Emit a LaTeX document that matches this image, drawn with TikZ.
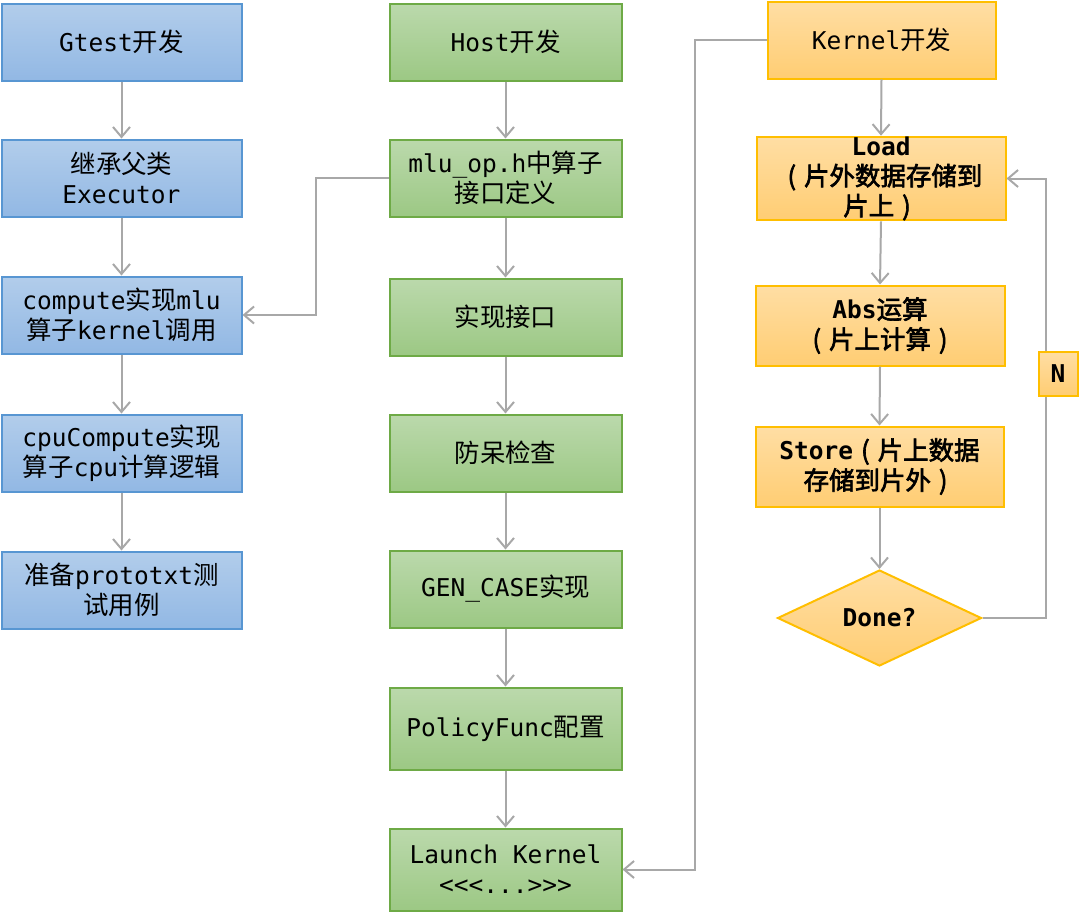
\documentclass[tikz,border=0pt]{standalone}
\usepackage{fontspec}
\setmonofont{DejaVu Sans Mono}
\newfontfamily\cjk[AutoFakeBold=2.5,Scale=1.04]{Noto Sans CJK SC}
\newcommand\zh[1]{{\cjk #1}}
\newcommand\lp{\makebox[1em][c]{\cjk (}}
\newcommand\rp{\makebox[1em][c]{\cjk )}}
\usetikzlibrary{arrows.meta,shapes.geometric}
\definecolor{bluetop}{RGB}{178,205,235}
\definecolor{bluebot}{RGB}{146,184,228}
\definecolor{blueline}{RGB}{88,150,210}
\definecolor{greentop}{RGB}{187,217,172}
\definecolor{greenbot}{RGB}{156,200,132}
\definecolor{greenline}{RGB}{110,170,70}
\definecolor{orgtop}{RGB}{255,222,164}
\definecolor{orgbot}{RGB}{255,205,115}
\definecolor{orgline}{RGB}{255,190,0}
\definecolor{conn}{RGB}{168,168,168}
\tikzset{
  box/.style={rectangle, line width=2pt, inner sep=0pt, align=center,
    font=\ttfamily\fontsize{24.5}{30}\selectfont},
  bfont/.style={font=\ttfamily\bfseries\fontsize{24.5}{30}\selectfont},
  bluebox/.style={box, draw=blueline, top color=bluetop, bottom color=bluebot,
    minimum width=240pt, minimum height=77pt},
  greenbox/.style={box, draw=greenline, top color=greentop, bottom color=greenbot,
    minimum width=232pt, minimum height=77pt},
  orgbox/.style={box, draw=orgline, top color=orgtop, bottom color=orgbot},
  arr/.style={draw=conn, line width=2pt, -{Straight Barb[length=10pt,width=17pt,line width=2pt]}},
  ln/.style={draw=conn, line width=2pt}
}
\begin{document}
\begin{tikzpicture}[x=1pt,y=-1pt]
\useasboundingbox (0,0) rectangle (1079,913);
% blue column
\node[bluebox] (g1) at (121.5,42) {Gtest\zh{开发}};
\node[bluebox] (g2) at (121.5,178) {\zh{继承父类}\\Executor};
\node[bluebox] (g3) at (121.5,315) {compute\zh{实现}mlu\\\zh{算子}kernel\zh{调用}};
\node[bluebox] (g4) at (121.5,453) {cpuCompute\zh{实现}\\\zh{算子}cpu\zh{计算逻辑}};
\node[bluebox] (g5) at (121.5,590) {\zh{准备}prototxt\zh{测}\\\zh{试用例}};
% green column
\node[greenbox] (h1) at (505.5,42) {Host\zh{开发}};
\node[greenbox] (h2) at (505.5,178) {mlu\_op.h\zh{中算子}\\\zh{接口定义}};
\node[greenbox] (h3) at (505.5,317) {\zh{实现接口}};
\node[greenbox] (h4) at (505.5,453) {\zh{防呆检查}};
\node[greenbox] (h5) at (505.5,589) {GEN\_CASE\zh{实现}};
\node[greenbox, minimum height=82pt] (h6) at (505.5,728.5) {PolicyFunc\zh{配置}};
\node[greenbox, minimum height=82pt] (h7) at (505.5,869.5) {Launch Kernel\\<{}<{}<...>{}>{}>};
% orange column
\node[orgbox, minimum width=228pt, minimum height=77pt] (k1) at (881.5,40) {Kernel\zh{开发}};
\node[orgbox, bfont, minimum width=249pt, minimum height=80pt] (k2) at (881,178.5) {Load\\\lp\zh{片外数据存储到}\\\zh{片上}\rp};
\node[orgbox, bfont, minimum width=249pt, minimum height=80pt] (k3) at (880,325.5) {Abs\zh{运算}\\\lp\zh{片上计算}\rp};
\node[orgbox, bfont, minimum width=248pt, minimum height=80pt] (k4) at (879.5,466.5) {Store\lp\zh{片上数据}\\\zh{存储到片外}\rp};
\node[diamond, draw=orgline, line width=2pt, top color=orgtop, bottom color=orgbot, inner sep=0pt,
  minimum width=204pt, minimum height=96pt, bfont] (d) at (879.5,618) {Done?};
% connectors
\draw[arr] (g1) -- (g2);
\draw[arr] (g2) -- (g3);
\draw[arr] (g3) -- (g4);
\draw[arr] (g4) -- (g5);
\draw[arr] (h1) -- (h2);
\draw[arr] (h2) -- (h3);
\draw[arr] (h3) -- (h4);
\draw[arr] (h4) -- (h5);
\draw[arr] (h5) -- (h6);
\draw[arr] (h6) -- (h7);
\draw[arr] (k1.south) -- (k2.north);
\draw[arr] (k2.south) -- (k3.north);
\draw[arr] (k3.south) -- (k4.north);
\draw[arr] (k4.south) -- (d.north);
\coordinate (c1) at (316,178);
\draw[arr] (h2.west) -- (c1) |- (g3.east);
\coordinate (c2) at (695,40);
\draw[arr] (k1.west) -- (c2) |- (h7.east);
\coordinate (c3) at (1046,618);
\draw[arr] (d.east) -- (c3) |- (k2.east);
\node[orgbox, bfont, minimum width=39pt, minimum height=44pt] (n) at (1058,373.5) {N};
\end{tikzpicture}
\end{document}
